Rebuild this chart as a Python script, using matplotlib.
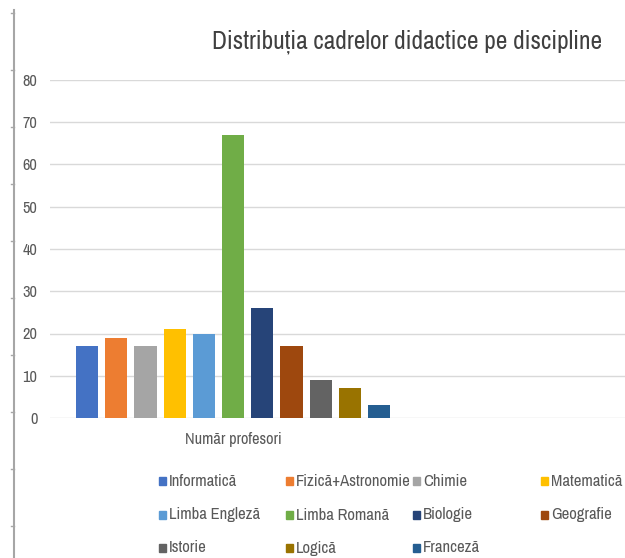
import matplotlib
matplotlib.use("Agg")
import matplotlib.pyplot as plt
from matplotlib.patches import Rectangle
from matplotlib.lines import Line2D
from matplotlib import font_manager

# data
subjects = ["Informatică", "Fizică+Astronomie", "Chimie", "Matematică",
            "Limba Engleză", "Limba Romană", "Biologie", "Geografie",
            "Istorie", "Logică", "Franceză"]
teachers = [17, 19, 17, 21, 20, 67, 26, 17, 9, 7, 3]
colors = ["#4472C4", "#ED7D31", "#A5A5A5", "#FFC000", "#5B9BD5", "#70AD47",
          "#264478", "#9E480E", "#636363", "#997300", "#255E91"]
yticks = [0, 10, 20, 30, 40, 50, 60, 70, 80]
category = "Număr profesori"
title = "Distribuția cadrelor didactice pe discipline"

# pick a narrow face if one is installed (original uses Calibri)
cands = sorted({(f.name, f.stretch) for f in font_manager.fontManager.ttflist
                if ("Narrow" in f.name or "Condensed" in f.name
                    or f.stretch in ("condensed", "semi-condensed", 600 - 100))})
font = cands[0][0] if cands else "Open Sans"
plt.rcParams["font.family"] = [font, "DejaVu Sans"]

fig = plt.figure(figsize=(6.25, 5.58), dpi=100)
W, H = 625, 558
ax = fig.add_axes([50 / W, 1 - 418 / H, 1 - 50 / W, (418 - 80) / H])

for i, (v, c) in enumerate(zip(teachers, colors)):
    ax.bar(i, v, width=0.76, color=c, zorder=3)

ax.set_xlim(-1.27, 18.42)
ax.set_ylim(0, 80)
ax.set_yticks(yticks)
ax.grid(axis="y", color="#D9D9D9", linewidth=1, zorder=0)
for s in ax.spines.values():
    s.set_visible(False)
ax.set_xticks([])

renderer = fig.canvas.get_renderer()


def fit(txt, target_px, size):
    # scale font size so that the text spans about target_px
    w = txt.get_window_extent(renderer).width
    txt.set_fontsize(size * target_px / w)
    return txt


t = fig.text(407 / W, 1 - 42 / H, title, ha="center", va="center", fontsize=15, color="#404040")
fit(t, 391, 15)

c = ax.text(5, -5.2, category, ha="center", va="center", fontsize=10, color="#595959")
fit(c, 97, 10)
label_size = c.get_fontsize()

ax.tick_params(axis="y", length=0, pad=9, labelsize=label_size, labelcolor="#595959")

# legend laid out like the original
col_x = [159, 286, 413, 541]
row_y = [481, 515, 548]
slots = [(0, 0), (0, 1), (0, 2), (0, 3), (1, 0), (1, 1), (1, 2), (1, 3),
         (2, 0), (2, 1), (2, 2)]
probe = fig.text(0, 0, "Fizică+Astronomie", fontsize=10)
fit(probe, 116, 10)
leg_size = probe.get_fontsize()
probe.remove()
for name, col, (r, k) in zip(subjects, colors, slots):
    x, y = col_x[k], row_y[r]
    fig.patches.append(Rectangle((x / W, 1 - (y + 4) / H), 7 / W, 8 / H,
                                 transform=fig.transFigure, color=col))
    fig.text((x + 10) / W, 1 - y / H, name, ha="left", va="center",
             fontsize=leg_size, color="#595959")

# left frame edge of the screenshot
fig.add_artist(Line2D([14 / W, 14 / W], [0, 1 - 10 / H], color="#A6A6A6", lw=1.5))
for ty in range(13, 558, 57):
    fig.add_artist(Line2D([11 / W, 14 / W], [1 - ty / H, 1 - ty / H], color="#A6A6A6", lw=1))

fig.savefig("out.png", dpi=100)
